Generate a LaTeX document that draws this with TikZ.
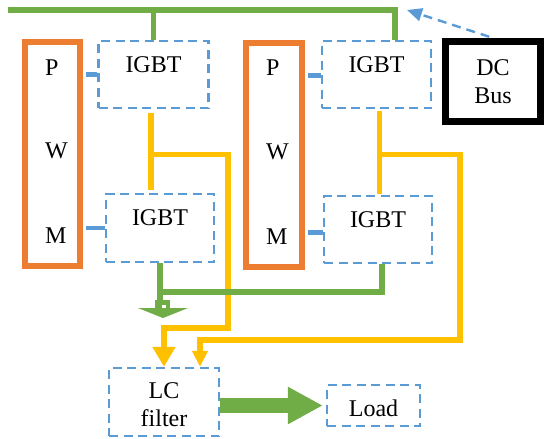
\documentclass[tikz,border=0pt]{standalone}
\usepackage{fontspec}
\setmainfont{Liberation Serif}
\usetikzlibrary{arrows.meta}
\definecolor{gcol}{RGB}{112,173,71}
\definecolor{ocol}{RGB}{237,125,49}
\definecolor{bcol}{RGB}{91,155,213}
\definecolor{ycol}{RGB}{255,192,0}
\begin{document}
\begin{tikzpicture}[x=1pt,y=-1pt,
  font=\fontsize{24}{28}\selectfont,
  pwmbox/.style={draw=ocol, line width=6pt, inner sep=0pt},
  igbtbox/.style={draw=bcol, line width=2.4pt, dash pattern=on 9pt off 5.5pt, inner sep=0pt},
  busbox/.style={draw=black, line width=7pt, inner sep=0pt, align=center},
  letter/.style={anchor=west, inner sep=0pt},
  gline/.style={draw=gcol, line width=5.5pt},
  yline/.style={draw=ycol, line width=5.5pt},
  bline/.style={draw=bcol, line width=4.5pt},
  bigtip/.style={-{Triangle[length=20pt,width=22pt]}},
  smalltip/.style={-{Triangle[length=16pt,width=15pt]}}
]
\useasboundingbox (0,0) rectangle (550,439);

% boxes
\node[pwmbox, minimum width=55pt, minimum height=224.5pt] (pwmL) at (52.5,153.75) {};
\node[pwmbox, minimum width=56pt, minimum height=224.5pt] (pwmR) at (274,154.75) {};
\node[letter] (pL) at (45,68) {P};
\node[letter] (wL) at (45,151) {W};
\node[letter] (mL) at (45,236) {M};
\node[letter] (pR) at (266,68) {P};
\node[letter] (wR) at (266,152) {W};
\node[letter] (mR) at (266,237) {M};

\node[igbtbox, minimum width=110pt, minimum height=67pt,
  label={[name=tA, yshift=10pt]center:IGBT}] (igbtA) at (153.5,74.5) {};
\node[igbtbox, minimum width=108pt, minimum height=68pt,
  label={[name=tB, yshift=10pt]center:IGBT}] (igbtB) at (160,228) {};
\node[igbtbox, minimum width=109pt, minimum height=67pt,
  label={[name=tC, yshift=10pt]center:IGBT}] (igbtC) at (376.5,74.5) {};
\node[igbtbox, minimum width=108pt, minimum height=67pt,
  label={[name=tD, yshift=10pt]center:IGBT}] (igbtD) at (378,229.5) {};

\node[busbox, minimum width=95pt, minimum height=80pt] (dcbus) at (493,81.5) {DC\\Bus};

\node[igbtbox, minimum width=110pt, minimum height=68pt, align=center,
  label={[name=tLC, yshift=-3pt, align=center]center:LC\\filter}] (lc) at (164,402) {};
\node[igbtbox, minimum width=93pt, minimum height=41pt,
  label={[name=tLoad, yshift=-3pt]center:Load}] (load) at (373.5,405.5) {};

% blue PWM connectors
\draw[bline, shorten <=3pt] (igbtA.west -| pwmL.east) -- (igbtA.west);
\draw[bline, shorten <=3pt] (igbtB.west -| pwmL.east) -- (igbtB.west);
\draw[bline, shorten <=3pt] ([yshift=-1pt]igbtC.west -| pwmR.east) -- ([yshift=-1pt]igbtC.west);
\draw[bline, shorten <=3pt] ([yshift=-3pt]igbtD.west -| pwmR.east) -- ([yshift=-3pt]igbtD.west);

% top green bus
\coordinate (busL) at (8,10);
\coordinate (busR) at (395,10);
\draw[gline] (busL) -- (busR) -- (busR |- igbtC.north);
\draw[gline] (igbtA.north) -- (igbtA.north |- busL);

% DC bus dashed arrow
\coordinate (dctip) at (407,10);
\draw[draw=bcol, line width=2.4pt, dash pattern=on 9pt off 6pt,
  -{Triangle[length=15pt,width=13pt]}, shorten <=4pt] (dcbus.north) -- (dctip);

% yellow left leg
\coordinate (ya1) at (151,113);
\coordinate (ya2) at (151,190);
\coordinate (yaj) at (151,154.5);
\coordinate (yac) at (228,328);
\draw[yline] (ya1) -- (ya2);
\draw[yline, bigtip] (yaj) -| (yac) -| (lc.north);

% yellow right leg
\coordinate (yb1) at (379.5,111);
\coordinate (yb2) at (379.5,194);
\coordinate (ybj) at (379.5,154.5);
\coordinate (ybc) at (460,340);
\draw[yline] (yb1) -- (yb2);
\draw[yline, smalltip] (ybj) -| (ybc) -| ([xshift=36pt]lc.north);

% lower green return
\coordinate (gj) at (160,292);
\coordinate (gr) at (382,292);
\draw[gline] (igbtB.south) -- (160,301);
\draw[gline] (gj) -- (gr) -- (gr |- igbtD.south);
\fill[gcol] (155,300) rectangle (170,310);
\fill[white] (162,305) rectangle (165.5,310);
\fill[gcol] (138,308) -- (188,308) -- (163,318) -- cycle;

% big green arrow LC filter -> Load
\draw[draw=gcol, line width=15pt, -{Triangle[length=35pt,width=35pt]}]
  (lc.east |- load.west) -- ([xshift=-3pt]load.west);
\end{tikzpicture}
\end{document}
